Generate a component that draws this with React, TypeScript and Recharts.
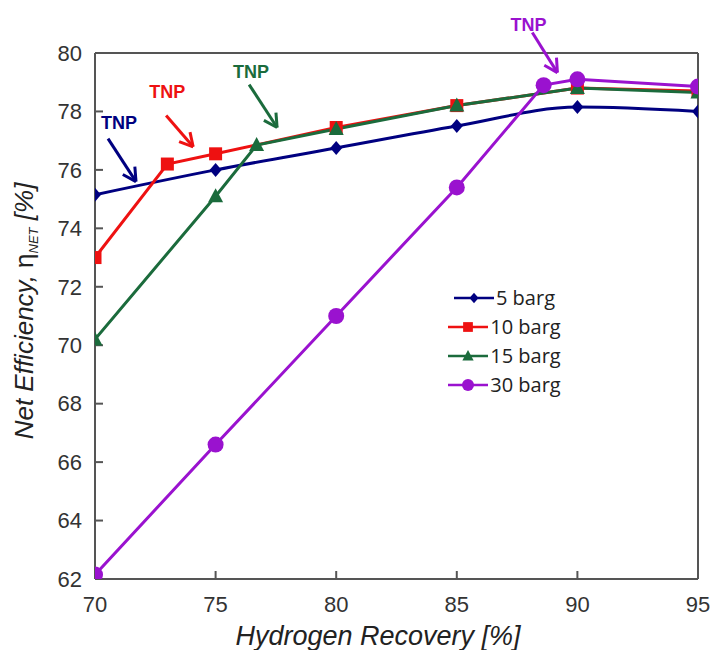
import { LineChart, Line, XAxis, YAxis, ReferenceLine, ReferenceDot, Legend } from "recharts";

const recovery5 = [70, 75, 80, 85, 90, 95];
const eff5 = [75.15, 76.0, 76.75, 77.5, 78.15, 78.0];
const recovery10 = [70, 73, 75, 80, 85, 90, 95];
const eff10 = [73.0, 76.2, 76.55, 77.45, 78.2, 78.8, 78.7];
const recovery15 = [70, 75, 76.7, 80, 85, 90, 95];
const eff15 = [70.2, 75.1, 76.85, 77.4, 78.2, 78.8, 78.65];
const recovery30 = [70, 75, 80, 85, 88.6, 90, 95];
const eff30 = [62.15, 66.6, 71.0, 75.4, 78.9, 79.1, 78.85];

const xTicks = [70, 75, 80, 85, 90, 95];
const yTicks = [62, 64, 66, 68, 70, 72, 74, 76, 78, 80];

// TNP annotations: [text x, text y, arrow start x, y, arrow end x, y]
const tnpNotes: [number, number, number, number, number, number, string][] = [
  [71.0, 77.62, 70.54, 77.07, 71.7, 75.6, "#000080"],
  [73.0, 78.68, 72.95, 77.86, 74.07, 76.79, "#ee1111"],
  [76.47, 79.36, 76.39, 78.92, 77.55, 77.45, "#1b6b3c"],
  [87.97, 80.96, 88.13, 80.7, 89.17, 79.33, "#9a12cf"],
];

const NAVY = "#000080";
const RED = "#ee1111";
const GREEN = "#1b6b3c";
const PURPLE = "#9a12cf";

const zip = (xs: number[], ys: number[]) => xs.map((x, i) => ({ x, y: ys[i] }));

const series = [
  { name: "5 barg", data: zip(recovery5, eff5), color: NAVY, shape: "diamond", curve: "monotone" },
  { name: "10 barg", data: zip(recovery10, eff10), color: RED, shape: "square", curve: "linear" },
  { name: "15 barg", data: zip(recovery15, eff15), color: GREEN, shape: "triangle", curve: "linear" },
  { name: "30 barg", data: zip(recovery30, eff30), color: PURPLE, shape: "circle", curve: "linear" },
];

// px per unit, used only to shape the arrow heads
const PX = 603 / 25;
const PY = 526 / 18;

function Marker({ cx, cy, shape, color, k = 1 }: { cx: number; cy: number; shape: string; color: string; k?: number }) {
  if (shape === "diamond")
    return <polygon points={`${cx},${cy - 7 * k} ${cx + 6 * k},${cy} ${cx},${cy + 7 * k} ${cx - 6 * k},${cy}`} fill={color} />;
  if (shape === "square") return <rect x={cx - 6.5 * k} y={cy - 6.5 * k} width={13 * k} height={13 * k} fill={color} />;
  if (shape === "triangle")
    return <polygon points={`${cx},${cy - 8 * k} ${cx + 7.5 * k},${cy + 6 * k} ${cx - 7.5 * k},${cy + 6 * k}`} fill={color} />;
  return <circle cx={cx} cy={cy} r={8 * k} fill={color} />;
}

function arrowHead(x0: number, y0: number, x1: number, y1: number) {
  const ang = Math.atan2(-(y1 - y0) * PY, (x1 - x0) * PX);
  const len = 15;
  return [0.5, -0.5].map((d) => {
    const a = ang + Math.PI + d;
    return { x: x1 + (Math.cos(a) * len) / PX, y: y1 - (Math.sin(a) * len) / PY };
  });
}

function LegendBox() {
  return (
    <div style={{ width: 160, fontFamily: "Open Sans", fontSize: 20, color: "#222" }}>
      {series.map((s) => (
        <div key={s.name} style={{ height: 29, display: "flex", justifyContent: "center", alignItems: "center" }}>
          <svg width={42} height={18}>
            <line x1={1} y1={9} x2={41} y2={9} stroke={s.color} strokeWidth={2.5} />
            <Marker cx={21} cy={9} shape={s.shape} color={s.color} k={0.75} />
          </svg>
          <span style={{ marginLeft: 1, lineHeight: "29px" }}>{s.name}</span>
        </div>
      ))}
    </div>
  );
}

export default function App() {
  return (
    <div style={{ position: "absolute", left: 0, top: 0 }}>
      <LineChart width={717} height={650} margin={{ top: 53, right: 19, bottom: 0, left: 0 }}>
        <XAxis
          type="number"
          dataKey="x"
          domain={[70, 95]}
          ticks={xTicks}
          allowDataOverflow
          height={71}
          stroke="#555"
          strokeWidth={2}
          tickSize={-8}
          tickMargin={25}
          tick={{ fill: "#333", fontSize: 22, fontFamily: "Liberation Sans" }}
          label={{
            content: () => (
              <text x={378} y={645} textAnchor="middle" fontFamily="Liberation Sans" fontStyle="italic" fontSize={27} fill="#222">
                Hydrogen Recovery [%]
              </text>
            ),
          }}
        />
        <YAxis
          type="number"
          dataKey="y"
          domain={[62, 80]}
          ticks={yTicks}
          allowDataOverflow
          width={95}
          stroke="#555"
          strokeWidth={2}
          tickSize={-8}
          tickMargin={21}
          tick={{ fill: "#333", fontSize: 22, fontFamily: "Liberation Sans" }}
          label={{
            content: () => (
              <text
                transform="translate(33,311) rotate(-90)"
                textAnchor="middle"
                fontFamily="Liberation Sans"
                fontStyle="italic"
                fontSize={26}
                fill="#222"
              >
                Net Efficiency, <tspan fontStyle="normal">η</tspan>
                <tspan fontSize={13} dy={5}>NET</tspan>
                <tspan dy={-5}> [%]</tspan>
              </text>
            ),
          }}
        />
        <ReferenceLine y={80} stroke="#555" strokeWidth={2} />
        <ReferenceLine x={95} stroke="#555" strokeWidth={2} />
        {series.map((s) => (
          <Line
            key={s.name}
            data={s.data}
            dataKey="y"
            name={s.name}
            type={s.curve as any}
            stroke={s.color}
            strokeWidth={3}
            isAnimationActive={false}
            dot={(p: any) => <Marker key={p.index} cx={p.cx} cy={p.cy} shape={s.shape} color={s.color} />}
            activeDot={false}
          />
        ))}
        {tnpNotes.map(([tx, ty, x0, y0, x1, y1, c], i) => {
          const head = arrowHead(x0, y0, x1, y1);
          return [
            <ReferenceLine
              key={`s${i}`}
              segment={[{ x: x0, y: y0 }, { x: x1, y: y1 }]}
              stroke={c}
              strokeWidth={3}
              ifOverflow="visible"
            />,
            ...head.map((h, j) => (
              <ReferenceLine
                key={`h${i}${j}`}
                segment={[{ x: x1, y: y1 }, { x: h.x, y: h.y }]}
                stroke={c}
                strokeWidth={3}
                ifOverflow="visible"
              />
            )),
            <ReferenceDot
              key={`t${i}`}
              x={tx}
              y={ty}
              r={0}
              fill="none"
              stroke="none"
              ifOverflow="visible"
              label={{ value: "TNP", position: "center", fill: c, fontSize: 18, fontWeight: "bold", fontFamily: "Liberation Sans" }}
            />,
          ];
        })}
        <Legend
          layout="vertical"
          align="center"
          verticalAlign="middle"
          content={() => <LegendBox />}
          wrapperStyle={{ position: "absolute", left: 424, top: 283, width: 160 }}
        />
      </LineChart>
    </div>
  );
}
